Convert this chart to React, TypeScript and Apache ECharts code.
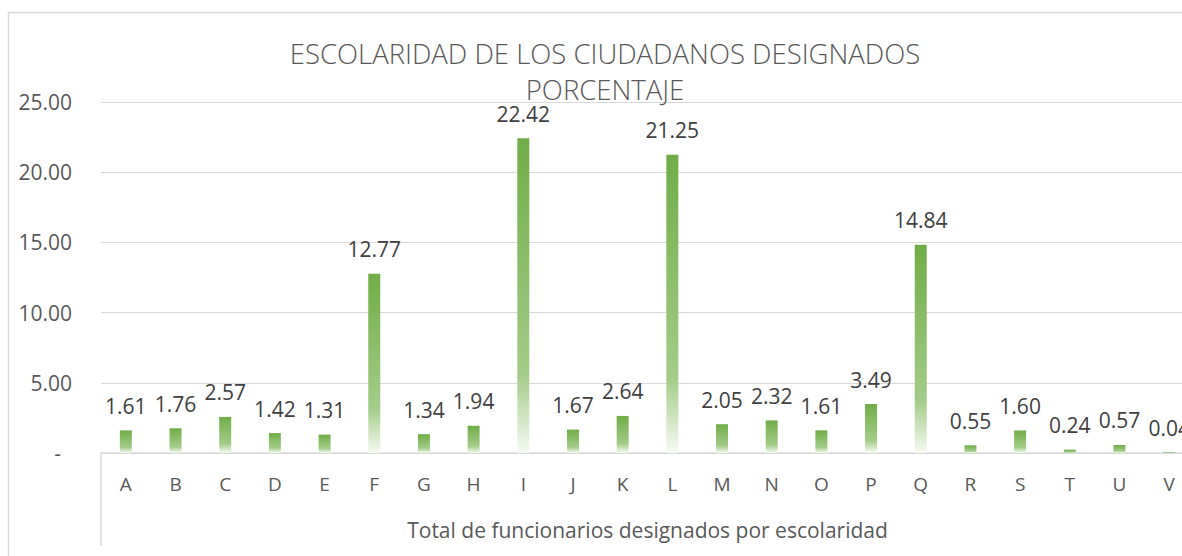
import React, { useEffect, useRef } from "react";
import * as echarts from "echarts";

const categories = ["A","B","C","D","E","F","G","H","I","J","K","L","M","N","O","P","Q","R","S","T","U","V"];
const values = [1.61,1.76,2.57,1.42,1.31,12.77,1.34,1.94,22.42,1.67,2.64,21.25,2.05,2.32,1.61,3.49,14.84,0.55,1.60,0.24,0.57,0.04];
const titleLines = ["ESCOLARIDAD DE LOS CIUDADANOS DESIGNADOS", "PORCENTAJE"];
const xAxisName = "Total de funcionarios designados por escolaridad";
const yMin = 0;
const yMax = 25;
const yInterval = 5;

const FONT = "'Open Sans', sans-serif";

export default function App() {
  const ref = useRef<HTMLDivElement>(null);
  useEffect(() => {
    if (!ref.current) return;
    const chart = echarts.init(ref.current, null, { renderer: "svg" });
    const barColor = new echarts.graphic.LinearGradient(0, 0, 0, 1, [
      { offset: 0, color: "#70AD47" },
      { offset: 0.75, color: "#A3CC88" },
      { offset: 1, color: "#F6FAF3" },
    ]);
    chart.setOption({
      animation: false,
      backgroundColor: "#ffffff",
      title: {
        text: titleLines.join("\n"),
        left: 600,
        top: 30,
        textAlign: "center",
        textStyle: {
          fontFamily: FONT,
          fontWeight: 300,
          fontSize: 27.5,
          lineHeight: 36,
          color: "#595959",
        },
      },
      grid: { left: 101, top: 102, width: 1093, height: 351, containLabel: false },
      xAxis: {
        type: "category",
        data: categories,
        name: xAxisName,
        nameLocation: "middle",
        nameGap: 66,
        nameTextStyle: { fontFamily: FONT, fontSize: 21, color: "#595959" },
        axisLine: { show: true, lineStyle: { color: "#d9d9d9", width: 1.5 } },
        axisTick: { show: false },
        axisLabel: { fontFamily: FONT, fontSize: 19, color: "#595959", margin: 21, interval: 0 },
      },
      yAxis: {
        type: "value",
        min: yMin,
        max: yMax,
        interval: yInterval,
        axisLine: { show: false },
        axisTick: { show: false },
        splitLine: { lineStyle: { color: "#d9d9d9", width: 1 } },
        axisLabel: {
          fontFamily: FONT,
          fontSize: 21,
          color: "#595959",
          margin: 29,
          formatter: (v: number) => (v === 0 ? "{d|-}" : v.toFixed(2)),
          rich: { d: { fontFamily: FONT, fontSize: 21, color: "#595959", padding: [0, 11, 0, 0] } },
        },
      },
      series: [
        {
          type: "bar",
          data: values,
          barWidth: 12,
          itemStyle: { color: barColor },
          label: {
            show: true,
            position: "top",
            distance: 14,
            fontFamily: FONT,
            fontSize: 21,
            color: "#404040",
            formatter: (p: any) => Number(p.value).toFixed(2),
          },
        },
      ],
      graphic: [
        {
          type: "rect",
          shape: { x: 8.5, y: 12.5, width: 1200, height: 600 },
          style: { fill: "none", stroke: "#d9d9d9", lineWidth: 1.5 },
          silent: true,
        },
        {
          type: "line",
          shape: { x1: 101, y1: 453, x2: 101, y2: 546 },
          style: { stroke: "#d9d9d9", lineWidth: 1.5 },
          silent: true,
        },
      ],
    });
    return () => chart.dispose();
  }, []);
  return (
    <div style={{ position: "absolute", left: 0, top: 0, width: 1182, height: 556, overflow: "hidden" }}>
      <div ref={ref} style={{ width: 1210, height: 556 }} />
    </div>
  );
}
